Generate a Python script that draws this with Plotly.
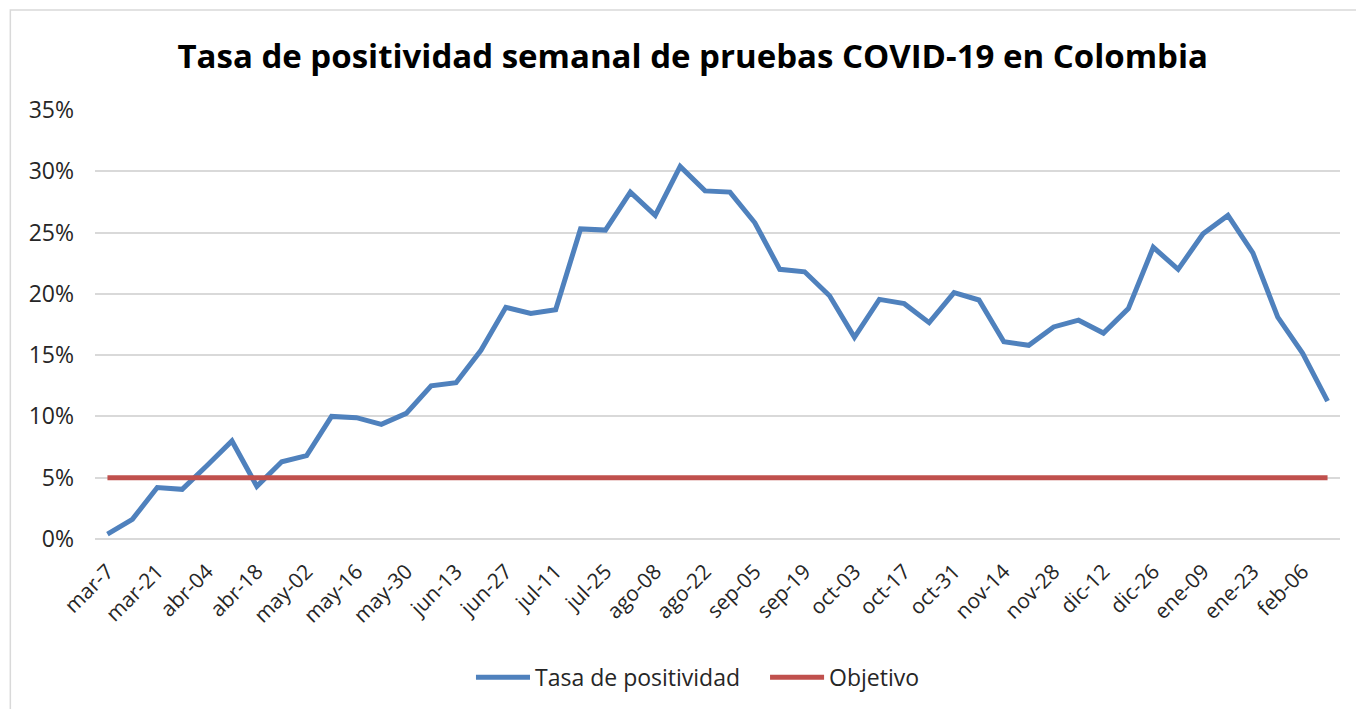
import plotly.graph_objects as go

# Weekly test positivity in Colombia (share of tests)
weeks = [
    "mar-7", "mar-14", "mar-21", "mar-28", "abr-04", "abr-11", "abr-18", "abr-25",
    "may-02", "may-09", "may-16", "may-23", "may-30", "jun-06", "jun-13", "jun-20",
    "jun-27", "jul-04", "jul-11", "jul-18", "jul-25", "ago-01", "ago-08", "ago-15",
    "ago-22", "ago-29", "sep-05", "sep-12", "sep-19", "sep-26", "oct-03", "oct-10",
    "oct-17", "oct-24", "oct-31", "nov-07", "nov-14", "nov-21", "nov-28", "dic-05",
    "dic-12", "dic-19", "dic-26", "ene-02", "ene-09", "ene-16", "ene-23", "ene-30",
    "feb-06", "feb-13",
]
positividad = [
    0.004, 0.016, 0.042, 0.0405, 0.060, 0.080, 0.043, 0.063, 0.068, 0.100,
    0.099, 0.0935, 0.1025, 0.125, 0.1275, 0.154, 0.189, 0.184, 0.187, 0.253,
    0.252, 0.283, 0.264, 0.304, 0.284, 0.283, 0.258, 0.220, 0.218, 0.1985,
    0.1645, 0.1955, 0.192, 0.1765, 0.201, 0.195, 0.161, 0.158, 0.173, 0.1785,
    0.168, 0.188, 0.238, 0.220, 0.249, 0.264, 0.2335, 0.181, 0.1515, 0.1125,
]
objetivo = [0.05] * len(weeks)
tick_labels = weeks[::2]

FONT = "Open Sans, Noto Sans, sans-serif"
BLUE = "#4F81BD"
RED = "#C0504D"
GRID = "#D9D9D9"
TEXT = "#262626"

fig = go.Figure()
fig.add_trace(go.Scatter(x=weeks, y=positividad, mode="lines", name="Tasa de positividad",
                         line=dict(color=BLUE, width=5)))
fig.add_trace(go.Scatter(x=weeks, y=objetivo, mode="lines", name="Objetivo",
                         line=dict(color=RED, width=5)))

# Excel-style legend with long line swatches, drawn by hand below the plot
LEG_Y = -0.322
legend_items = [("Tasa de positividad", BLUE, 0.3060), ("Objetivo", RED, 0.5422)]
shapes = [dict(type="rect", xref="paper", yref="paper", x0=-0.068, x1=1.2,
               y0=-0.6, y1=1.233, line=dict(color=GRID, width=1.5),
               fillcolor="rgba(0,0,0,0)", layer="below")]
annotations = []
for label, color, x0 in legend_items:
    shapes.append(dict(type="line", xref="paper", yref="paper", x0=x0, x1=x0 + 0.0434,
                       y0=LEG_Y, y1=LEG_Y, line=dict(color=color, width=5)))
    annotations.append(dict(text=label, xref="paper", yref="paper", x=x0 + 0.0458,
                            y=LEG_Y, xanchor="left", yanchor="middle", showarrow=False,
                            font=dict(size=23, color=TEXT)))

# the page body adds an 8px margin, so the figure margins are 8px smaller
fig.update_layout(
    width=1364, height=709,
    paper_bgcolor="white", plot_bgcolor="white",
    font=dict(family=FONT, color=TEXT, size=18),
    title=dict(text="<b>Tasa de positividad semanal de pruebas COVID-19 en Colombia</b>",
               x=0.502, xanchor="center", y=0.931, yanchor="middle",
               font=dict(size=33, color="black")),
    margin=dict(l=87, r=32, t=102, b=178),
    showlegend=False,
    shapes=shapes,
    annotations=annotations,
)
fig.update_xaxes(type="category", tickmode="array", tickvals=tick_labels, ticktext=tick_labels,
                 tickangle=-45, showgrid=False, showline=False, ticks="",
                 range=[-0.5, len(weeks) - 0.5], tickfont=dict(size=21),
                 ticklabelstandoff=15)
fig.update_yaxes(range=[0, 0.35], dtick=0.05, tickformat=".0%", showgrid=True,
                 gridcolor=GRID, gridwidth=1.5, zeroline=True, zerolinecolor=GRID,
                 zerolinewidth=1.5, showline=False, ticks="", tickfont=dict(size=23),
                 ticklabelstandoff=20)

fig.write_html("out.html")
